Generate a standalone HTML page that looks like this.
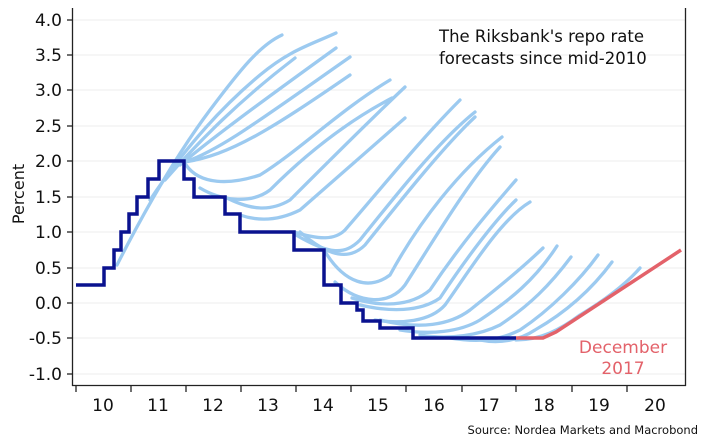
<!DOCTYPE html>
<html><head><meta charset="utf-8"><style>
html,body{margin:0;padding:0;background:#fff}
svg{display:block;font-family:"DejaVu Sans","Liberation Sans",sans-serif}
</style></head><body>
<svg width="710" height="448" viewBox="0 0 710 448">
<g stroke="#ececec" stroke-width="1">
<line x1="73" x2="685" y1="20" y2="20"/><line x1="73" x2="685" y1="55" y2="55"/><line x1="73" x2="685" y1="90" y2="90"/><line x1="73" x2="685" y1="126" y2="126"/><line x1="73" x2="685" y1="161" y2="161"/><line x1="73" x2="685" y1="197" y2="197"/><line x1="73" x2="685" y1="232" y2="232"/><line x1="73" x2="685" y1="268" y2="268"/><line x1="73" x2="685" y1="303" y2="303"/><line x1="73" x2="685" y1="338" y2="338"/><line x1="73" x2="685" y1="374" y2="374"/>
</g>
<g fill="none" stroke="#9ccaf0" stroke-width="3.3" stroke-linecap="round">
<path d="M117,265 C150,200 180,150 210,110 S260,45 282,35"/>
<path d="M150,200 C190,140 230,100 260,75 S310,45 336,33"/>
<path d="M165,180 C200,140 240,100 295,58"/>
<path d="M180,165 C210,140 250,110 336,48"/>
<path d="M185,162 C220,150 260,120 350,57"/>
<path d="M185,162 C230,155 270,130 350,75"/>
<path d="M186,165 C200,185 230,185 260,175 C300,150 340,110 390,80"/>
<path d="M200,188 C220,200 250,205 270,190 C310,150 350,120 392,98"/>
<path d="M225,197 C250,210 270,212 290,200 C330,160 370,120 405,87"/>
<path d="M240,215 C260,222 280,220 300,210 C340,175 380,140 405,118"/>
<path d="M294,232 C320,240 335,240 345,230 C380,190 420,140 460,100"/>
<path d="M296,235 C330,255 345,255 360,240 C400,190 440,140 475,112"/>
<path d="M300,232 C330,258 350,260 365,245 C405,195 445,145 475,117"/>
<path d="M324,250 C345,285 370,290 390,275 C420,220 460,170 502,137"/>
<path d="M335,282 C360,305 390,305 405,285 C440,230 470,180 500,147"/>
<path d="M352,298 C380,307 410,307 430,290 C460,245 490,210 516,180"/>
<path d="M360,305 C390,312 420,312 440,298 C465,260 495,220 516,200"/>
<path d="M375,320 C400,324 430,322 445,305 C470,270 500,220 530,202"/>
<path d="M380,320 C420,330 450,325 470,310 C495,290 520,270 543,248"/>
<path d="M400,330 C430,335 460,332 480,320 C510,300 535,280 557,246"/>
<path d="M420,335 C450,340 480,335 500,325 C530,305 550,285 571,257"/>
<path d="M450,338 C480,343 500,340 520,330 C550,310 580,280 598,255"/>
<path d="M480,340 C500,344 520,340 535,330 C570,310 595,285 612,262"/>
<path d="M516,340 C540,340 560,330 580,315 C605,300 625,285 640,268"/>
</g>
<polyline fill="none" stroke="#0a128f" stroke-width="3.5" points="76,285 104,285 104,268 114,268 114,250 121,250 121,232 129,232 129,214 137,214 137,197 148,197 148,179 159,179 159,161 184,161 184,179 194,179 194,197 225,197 225,214 240,214 240,232 294,232 294,250 324,250 324,285 341,285 341,303 357,303 357,310 363,310 363,321 380,321 380,328 413,328 413,338 516,338"/>
<polyline fill="none" stroke="#e3626a" stroke-width="3.5" points="516,338 543,338 556,332 681,250"/>
<g stroke="#222" stroke-width="1.3">
<line x1="72.5" y1="8" x2="72.5" y2="386"/><line x1="685.5" y1="8" x2="685.5" y2="386"/><line x1="72" y1="385.5" x2="686" y2="385.5"/>
<line x1="76" x2="76" y1="386" y2="392"/><line x1="131" x2="131" y1="386" y2="392"/><line x1="186" x2="186" y1="386" y2="392"/><line x1="241" x2="241" y1="386" y2="392"/><line x1="296" x2="296" y1="386" y2="392"/><line x1="351" x2="351" y1="386" y2="392"/><line x1="406" x2="406" y1="386" y2="392"/><line x1="462" x2="462" y1="386" y2="392"/><line x1="516" x2="516" y1="386" y2="392"/><line x1="572" x2="572" y1="386" y2="392"/><line x1="627" x2="627" y1="386" y2="392"/>
<line x1="67" x2="72" y1="20" y2="20"/><line x1="67" x2="72" y1="55" y2="55"/><line x1="67" x2="72" y1="90" y2="90"/><line x1="67" x2="72" y1="126" y2="126"/><line x1="67" x2="72" y1="161" y2="161"/><line x1="67" x2="72" y1="197" y2="197"/><line x1="67" x2="72" y1="232" y2="232"/><line x1="67" x2="72" y1="268" y2="268"/><line x1="67" x2="72" y1="303" y2="303"/><line x1="67" x2="72" y1="338" y2="338"/><line x1="67" x2="72" y1="374" y2="374"/>
</g>
<g font-size="17" fill="#111" text-anchor="end">
<text x="62" y="26">4.0</text><text x="62" y="61">3.5</text><text x="62" y="96">3.0</text><text x="62" y="132">2.5</text><text x="62" y="167">2.0</text><text x="62" y="203">1.5</text><text x="62" y="238">1.0</text><text x="62" y="274">0.5</text><text x="62" y="309">0.0</text><text x="62" y="344">-0.5</text><text x="62" y="380">-1.0</text>
</g>
<g font-size="17" fill="#111" text-anchor="middle">
<text x="103" y="411">10</text><text x="158" y="411">11</text><text x="213" y="411">12</text><text x="268" y="411">13</text><text x="323" y="411">14</text><text x="378" y="411">15</text><text x="434" y="411">16</text><text x="489" y="411">17</text><text x="544" y="411">18</text><text x="599" y="411">19</text><text x="655" y="411">20</text>
</g>
<text transform="translate(24,194) rotate(-90)" font-size="16" fill="#111" text-anchor="middle">Percent</text>
<text x="439" y="42" font-size="16.5" fill="#111">The Riksbank's repo rate</text>
<text x="439" y="64" font-size="16.5" fill="#111">forecasts since mid-2010</text>
<text x="623" y="353" font-size="17" fill="#e3626a" text-anchor="middle">December</text>
<text x="623" y="374" font-size="17" fill="#e3626a" text-anchor="middle">2017</text>
<text x="698" y="434" font-size="11.5" fill="#111" text-anchor="end">Source: Nordea Markets and Macrobond</text>
</svg>
</body></html>
